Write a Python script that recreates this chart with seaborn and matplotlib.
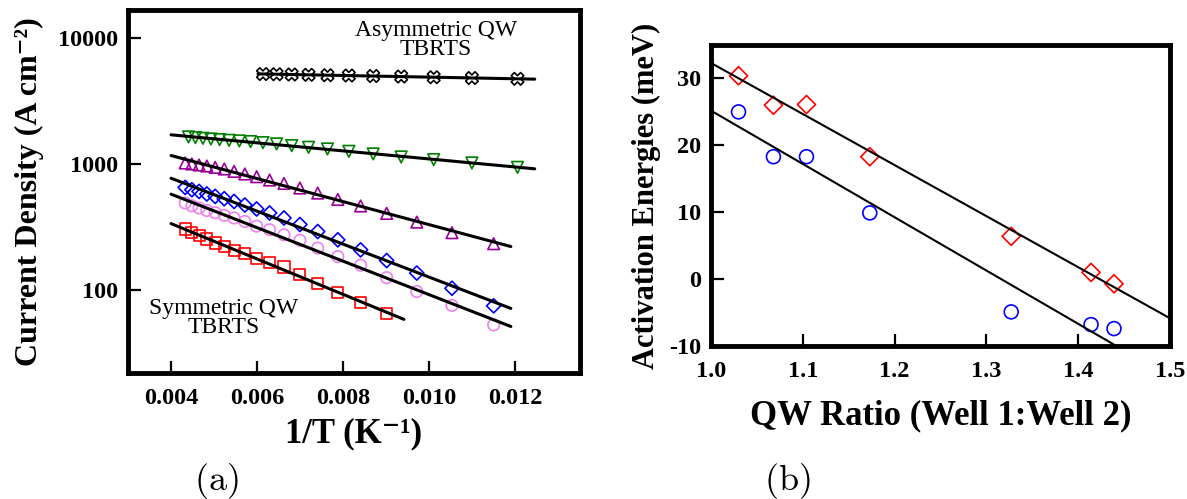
import numpy as np
import matplotlib
matplotlib.use('Agg')
import matplotlib.pyplot as plt
from matplotlib.ticker import NullLocator, FormatStrFormatter
import seaborn as sns

# ---- panel (a): current density vs 1/T
inv_t_hi = [0.004405, 0.004566, 0.004739, 0.004926, 0.005128, 0.005348, 0.005587,
            0.005848, 0.006135, 0.006452, 0.006803, 0.007194, 0.007634, 0.00813,
            0.008696, 0.009346, 0.010101, 0.010989, 0.012048]
inv_t_lo = [0.004329, 0.004484, 0.004651, 0.004831, 0.005025, 0.005236, 0.005464,
            0.005714, 0.005988, 0.006289, 0.006623, 0.006993, 0.007407, 0.007874,
            0.008403, 0.009009, 0.009709, 0.010526, 0.011494]

asym_x = [0.006135, 0.006452, 0.006803, 0.007194, 0.007634, 0.00813, 0.008696,
          0.009346, 0.010101, 0.010989, 0.012048]
asym_j = [5213, 5194, 5166, 5138, 5100, 5072, 5026, 4980, 4916, 4845, 4775]
green_j = [1647, 1626, 1605, 1587, 1567, 1547, 1530, 1511, 1483, 1449, 1404, 1361,
           1321, 1265, 1206, 1141, 1086, 1022, 943]
purple_j = [1022, 1004, 985, 967, 943, 916, 876, 836, 795, 748, 703, 646, 589, 524,
            465, 406, 346, 285, 233]
blue_j = [653, 626, 607, 579, 554, 531, 505, 473, 440, 409, 373, 331, 291, 250, 208,
          171, 136, 103, 74.6]
pink_j = [491, 467, 448, 428, 411, 391, 373, 350, 321, 301, 274, 248, 215, 184, 157,
          125, 97, 75.2, 52.6]
red_x = [0.004329, 0.004484, 0.004651, 0.004831, 0.005025, 0.005236, 0.005464,
         0.005714, 0.005988, 0.006289, 0.006623, 0.006993, 0.007407, 0.007874,
         0.008403, 0.009009]
red_j = [305, 286, 269, 254, 236, 221, 206, 194, 179, 165, 152, 132, 112, 94.6, 79.2, 64.4]

# ---- panel (b): activation energies vs QW ratio
qw_ratio = [1.030, 1.068, 1.104, 1.173, 1.327, 1.414, 1.439]
ea_red = [30.4, 26.0, 26.1, 18.3, 6.4, 1.0, -0.7]
ea_blue = [25.0, 18.3, 18.3, 9.9, -4.9, -6.8, -7.4]

sns.set_style('ticks')
plt.rcParams['font.family'] = ['Liberation Serif', 'DejaVu Serif']
plt.rcParams['font.weight'] = 'bold'
plt.rcParams['mathtext.fontset'] = 'custom'
plt.rcParams['mathtext.rm'] = 'Liberation Serif:bold'
plt.rcParams['mathtext.bf'] = 'Liberation Serif:bold'
plt.rcParams['axes.unicode_minus'] = False
for k in ('text.color', 'axes.labelcolor', 'xtick.color', 'ytick.color'):
    plt.rcParams[k] = 'black'

fig = plt.figure(figsize=(11.87, 4.99), dpi=100)
W, H = 1187, 499
ax1 = fig.add_axes([128 / W, 1 - 373 / H, (580 - 128) / W, (373 - 9.5) / H])
ax2 = fig.add_axes([711 / W, 1 - 346 / H, (1170 - 711) / W, (346 - 45) / H])

# panel (a) scatter + fitted lines in log space
series = [
    (asym_x, asym_j, 'X', 'black', 81, 0.00602),
    (inv_t_hi, green_j, 'v', 'green', 70, 0.0040),
    (inv_t_lo, purple_j, '^', '#990099', 70, 0.0040),
    (inv_t_lo, blue_j, 'D', 'blue', 52, 0.0040),
    (inv_t_lo, pink_j, 'o', 'violet', 68, 0.0040),
    (red_x, red_j, 's', 'red', 64, 0.0040),
]
for xs, js, mk, col, size, x0 in series:
    sns.scatterplot(x=xs, y=js, marker=mk, s=size, color=col, facecolor='none',
                    edgecolor=col, linewidth=1.2, ax=ax1, zorder=2)
    coef = np.polyfit(xs, np.log10(js), 1)
    xf = np.linspace(x0, xs[-1] + 0.0004, 50)
    sns.lineplot(x=xf, y=10 ** np.polyval(coef, xf), color='black', lw=2.2,
                 ax=ax1, zorder=3, legend=False)

ax1.set_yscale('log')
ax1.set_xlim(0.003, 0.0135)
ax1.set_ylim(21.8, 17000)
ax1.set_xticks([0.004, 0.006, 0.008, 0.010, 0.012])
ax1.xaxis.set_major_formatter(FormatStrFormatter('%.3f'))
ax1.set_yticks([100, 1000, 10000])
ax1.set_yticklabels(['100', '1000', '10000'])
ax1.yaxis.set_minor_locator(NullLocator())
ax1.set_xlabel('1/T (K\u207b\u00b9)', fontsize=25, fontweight='bold', labelpad=6)
ax1.set_ylabel('Current Density (A cm\u207b\u00b2)', fontsize=23,
               fontweight='bold', labelpad=10)
ax1.text(0.681, 0.916, 'Asymmetric QW\nTBRTS', transform=ax1.transAxes, ha='center',
         va='center', fontsize=17, fontweight='normal', linespacing=0.9)
ax1.text(0.212, 0.152, 'Symmetric QW\nTBRTS', transform=ax1.transAxes, ha='center',
         va='center', fontsize=17, fontweight='normal', linespacing=0.9)

# panel (b)
ax2.set_xlim(1.0, 1.5)
ax2.set_ylim(-10, 35)
sns.scatterplot(x=qw_ratio, y=ea_red, marker='D', s=85, color='red', facecolor='none',
                edgecolor='red', linewidth=1.2, ax=ax2, zorder=2)
sns.scatterplot(x=qw_ratio, y=ea_blue, marker='o', s=100, color='blue', facecolor='none',
                edgecolor='blue', linewidth=1.2, ax=ax2, zorder=2)
for ys in (ea_red, ea_blue):
    sns.regplot(x=qw_ratio, y=ys, scatter=False, ci=None, truncate=False, color='black',
                line_kws=dict(lw=1.5), ax=ax2)
ax2.set_xlim(1.0, 1.5)
ax2.set_ylim(-10, 35)
ax2.set_xticks([1.0, 1.1, 1.2, 1.3, 1.4, 1.5])
ax2.xaxis.set_major_formatter(FormatStrFormatter('%.1f'))
ax2.set_yticks([-10, 0, 10, 20, 30])
ax2.set_xlabel('QW Ratio (Well 1:Well 2)', fontsize=25, fontweight='bold', labelpad=12)
ax2.set_ylabel('Activation Energies (meV)', fontsize=22, fontweight='bold', labelpad=6)

for ax in (ax1, ax2):
    for sp in ax.spines.values():
        sp.set_visible(True)
        sp.set_linewidth(3.5)
        sp.set_color('black')
    ax.tick_params(direction='in', length=9, width=1.6, labelsize=17.5,
                   top=False, right=False, colors='black')
    ax.tick_params(axis='y', pad=7)
    for lab in ax.get_xticklabels() + ax.get_yticklabels():
        lab.set_fontweight('bold')
ax1.tick_params(axis='x', pad=11)
ax2.tick_params(axis='x', pad=11)

fig.text(216 / W, 1 - 481 / H, r'$\mathrm{(a)}$', math_fontfamily='cm', fontsize=26,
         ha='center', va='center')
fig.text(787 / W, 1 - 481 / H, r'$\mathrm{(b)}$', math_fontfamily='cm', fontsize=26,
         ha='center', va='center')

fig.savefig('out.png', dpi=100)
